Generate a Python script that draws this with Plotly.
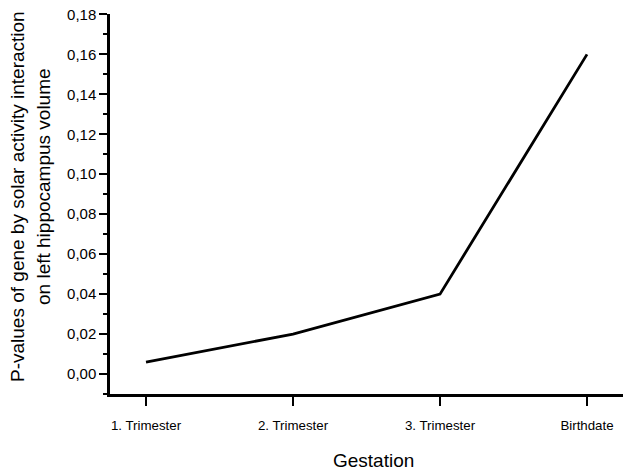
import plotly.graph_objects as go

categories = ["1. Trimester", "2. Trimester", "3. Trimester", "Birthdate"]
p_values = [0.006, 0.02, 0.04, 0.16]
y_ticks = [0.00, 0.02, 0.04, 0.06, 0.08, 0.10, 0.12, 0.14, 0.16, 0.18]
y_minor = [-0.01, 0.01, 0.03, 0.05, 0.07, 0.09, 0.11, 0.13, 0.15, 0.17]

xpos = list(range(len(categories)))

W, H = 630, 471
L, T, R = 110, 14, 7
B = H - 394
PW, PH = W - L - R, H - T - B

def px_x(px):  # page pixel -> paper coord
    return (px - L) / PW

def px_y(py):
    return 1 - (py - T) / PH

fig = go.Figure()
fig.add_trace(go.Scatter(x=xpos, y=p_values, mode="lines",
                         line=dict(color="black", width=2.8), showlegend=False))

font_family = "Liberation Sans, Arial, sans-serif"

fig.update_layout(
    width=W, height=H,
    margin=dict(l=L, r=R, t=T, b=B),
    paper_bgcolor="white", plot_bgcolor="white",
    separators=", ",
    font=dict(family=font_family, color="black"),
    xaxis=dict(
        range=[-0.245, 3.245], tickvals=xpos, ticktext=categories,
        showgrid=False, zeroline=False, showline=True, linecolor="black", linewidth=2.5,
        ticks="outside", ticklen=9, tickwidth=2, tickcolor="black",
        tickfont=dict(size=13.3),
        ticklabelstandoff=8,
        automargin=False,
    ),
    yaxis=dict(
        range=[-0.01, 0.1802], tickvals=y_ticks, tickformat=".2f",
        showgrid=False, zeroline=False, showline=True, linecolor="black", linewidth=2.5,
        ticks="outside", ticklen=8, tickwidth=2, tickcolor="black",
        tickfont=dict(size=15),
        minor=dict(tickvals=y_minor, ticks="outside", ticklen=4, tickwidth=2, tickcolor="black"),
        automargin=False,
    ),
    annotations=[
        dict(text="Gestation", xref="paper", yref="paper", x=px_x(373), y=px_y(460),
             xanchor="center", yanchor="middle", showarrow=False, font=dict(size=19)),
        dict(text="P-values of gene by solar activity interaction", xref="paper", yref="paper",
             x=px_x(17), y=px_y(197), xanchor="center", yanchor="middle", textangle=-90,
             showarrow=False, font=dict(size=19)),
        dict(text="on left hippocampus volume", xref="paper", yref="paper",
             x=px_x(43), y=px_y(187), xanchor="center", yanchor="middle", textangle=-90,
             showarrow=False, font=dict(size=19)),
    ],
)

fig.write_html("out.html", config={"displayModeBar": False},
               post_script="document.body.style.margin='0';")
